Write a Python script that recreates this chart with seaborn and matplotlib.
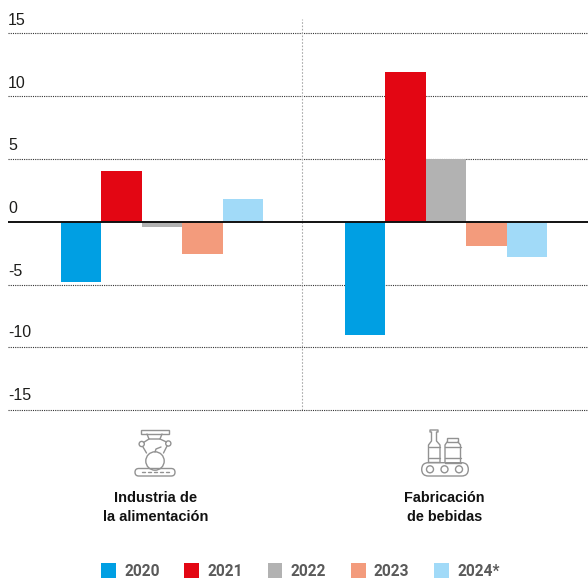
import matplotlib
matplotlib.use('Agg')
import matplotlib.pyplot as plt
from matplotlib.patches import Circle, FancyBboxPatch, Rectangle
import pandas as pd
import seaborn as sns

sectors = ['Industria de\nla alimentación', 'Fabricación\nde bebidas']
years = ['2020', '2021', '2022', '2023', '2024*']
alimentacion = [-4.8, 4.05, -0.42, -2.6, 1.85]
bebidas = [-9.0, 11.9, 5.03, -1.96, -2.8]
y_ticks = [15, 10, 5, 0, -5, -10, -15]
year_colours = ['#009FE3', '#E30613', '#B2B2B2', '#F39B7C', '#A1DAF8']

W, H = 588, 579
sns.set_theme(style='white')
plt.rcParams['font.family'] = ['Liberation Sans', 'DejaVu Sans']

df = pd.DataFrame({
    'sector': [sectors[0]] * 5 + [sectors[1]] * 5,
    'year': years * 2,
    'value': alimentacion + bebidas,
})

fig = plt.figure(figsize=(W / 100, H / 100), dpi=100)
# axes box in pixels: x 8..588, y 19..410.3
ax = fig.add_axes([8 / W, 1 - 410.3 / H, 580 / W, (410.3 - 19) / H])

sns.barplot(data=df, x='sector', y='value', hue='year', palette=year_colours,
            width=0.712, gap=0, linewidth=0, saturation=1, errorbar=None, ax=ax, zorder=3)

ax.set_xlim(-0.5415, 1.4994)
ax.set_ylim(-15, (222 - 19) / 12.58)
ax.set(xlabel='', ylabel='', xticks=[], yticks=[])
sns.despine(ax=ax, left=True, bottom=True)
ax.patch.set_alpha(0)

for v in y_ticks:
    if v == 0:
        ax.axhline(0, color='#111111', lw=1.4, zorder=5)
    else:
        ax.axhline(v, color='#333333', lw=0.8, ls=(0, (1, 1)), zorder=1, clip_on=False)
    # the two lowest labels sit a little higher above their lines
    lift = 7.2 if v < -5 else 6.2
    ax.annotate(str(v), (0, v), xycoords=('axes fraction', 'data'), xytext=(0, lift),
                textcoords='offset points', ha='left', va='baseline',
                fontsize=11.5, color='#1d1d1b')

ax.axvline(0.4925, color='#aaaaaa', lw=0.8, ls=(0, (1.5, 1.5)), zorder=1)

# legend
handles, labels = ax.get_legend_handles_labels()
leg = fig.legend(handles, labels, loc='lower left', bbox_to_anchor=(101 / W, 0), ncol=5,
                 frameon=False, borderpad=0, borderaxespad=0,
                 handlelength=0.96, handleheight=1.13, handletextpad=0.53, columnspacing=1.58,
                 prop={'family': 'Roboto', 'weight': 'bold', 'size': 11.2})
for t in leg.get_texts():
    t.set_color('#5a5a5a')
if ax.get_legend():
    ax.get_legend().remove()

# overlay in pixel coordinates for the icons and the sector names
over = fig.add_axes([0, 0, 1, 1])
over.set_xlim(0, W)
over.set_ylim(H, 0)
over.axis('off')

over.text(155.5, 498, 'Industria de', ha='center', va='center', fontsize=10.5, fontweight='bold', color='#111111')
over.text(155.5, 517, 'la alimentación', ha='center', va='center', fontsize=10.5, fontweight='bold', color='#111111')
over.text(444.5, 498, 'Fabricación', ha='center', va='center', fontsize=10.4, fontweight='bold', color='#111111')
over.text(444.5, 517, 'de bebidas', ha='center', va='center', fontsize=10.4, fontweight='bold', color='#111111')

ic = '#929292'
lw = 1.0


def line(xs, ys):
    over.plot(xs, ys, color=ic, lw=lw, solid_capstyle='round')


def rect(x, y, w, h):
    over.add_patch(Rectangle((x, y), w, h, fill=False, ec=ic, lw=lw))


def circ(x, y, r):
    over.add_patch(Circle((x, y), r, fill=False, ec=ic, lw=lw))


def belt(x, y, w, h):
    over.add_patch(FancyBboxPatch((x + h / 2, y + h / 2), w - h, 0, boxstyle=f'round,pad={h / 2},rounding_size={h / 2}',
                                  fill=False, ec=ic, lw=lw))


# robot arm and apple
rect(141, 430, 27.5, 4)
line([147, 149, 160, 162], [434, 439, 439, 434])
line([149, 143.5], [439, 442.5])
line([160, 166.5], [439, 442])
circ(141.7, 444, 2.6)
circ(168.3, 443.5, 2.6)
line([143, 146.5], [447, 453])
line([167, 163.5], [446, 453])
circ(155, 461, 9.2)
line([155, 156, 161], [452, 449, 447])
belt(135, 468.5, 40, 7.5)
for x in [142, 148, 154, 160, 166]:
    line([x, x + 3], [472.3, 472.3])

# bottles on the belt
line([428.5, 428.5, 431.5, 431.5, 430, 430, 438, 438, 436.5, 436.5, 440, 440, 428.5],
     [462.5, 445, 441, 432, 432, 430, 430, 432, 432, 441, 445, 462.5, 462.5])
line([428.5, 440], [447, 447])
line([428.5, 440], [458, 458])
rect(447, 438, 11, 4)
line([445, 445, 447], [462.5, 445, 442])
line([460.5, 460.5, 458], [462.5, 445, 442])
line([445, 460.5], [462.5, 462.5])
line([445, 460.5], [447, 447])
line([445, 460.5], [458, 458])
belt(421.7, 462.7, 46.6, 13.3)
for x in [430, 444.5, 459]:
    circ(x, 469.3, 3.5)

fig.savefig('out.png', dpi=100)
